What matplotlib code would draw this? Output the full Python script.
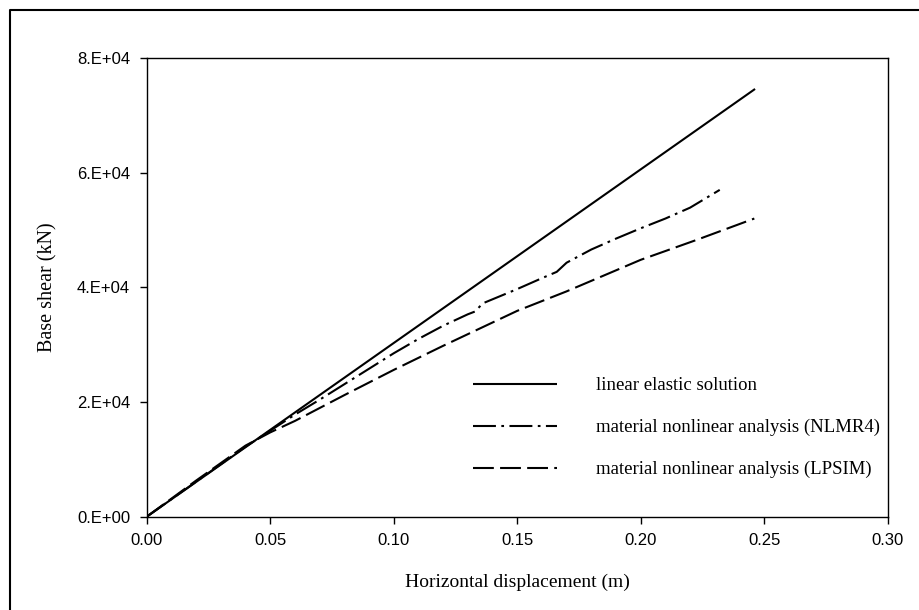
import matplotlib
matplotlib.use("Agg")
import matplotlib.pyplot as plt
from matplotlib.lines import Line2D

# Data
linear_x = [0.0, 0.2463]
linear_y = [0.0, 74600.0]

nlmr4_x = [0.0, 0.02, 0.04, 0.05, 0.06, 0.07, 0.08, 0.09, 0.10, 0.11, 0.12, 0.13, 0.133, 0.136,
           0.15, 0.16, 0.166, 0.17, 0.18, 0.19, 0.20, 0.21, 0.22, 0.232]
nlmr4_y = [0.0, 6100, 12200, 15000, 17800, 20400, 23100, 25800, 28500, 31000, 33300, 35300, 35800, 37200,
           39700, 41600, 42700, 44300, 46600, 48500, 50300, 52000, 53900, 57000]

lpsim_x = [0.0, 0.02, 0.04, 0.05, 0.06, 0.08, 0.10, 0.12, 0.15, 0.17, 0.20, 0.2228, 0.246]
lpsim_y = [0.0, 6300, 12400, 14700, 16700, 21200, 25600, 29800, 35900, 39300, 44800, 48300, 52000]

labels = ["linear elastic solution",
          "material nonlinear analysis (NLMR4)",
          "material nonlinear analysis (LPSIM)"]
xticks = [0.0, 0.05, 0.10, 0.15, 0.20, 0.25, 0.30]
xticklabels = ["0.00", "0.05", "0.10", "0.15", "0.20", "0.25", "0.30"]
yticks = [0, 20000, 40000, 60000, 80000]
yticklabels = ["0.E+00", "2.E+04", "4.E+04", "6.E+04", "8.E+04"]

serif = ["Liberation Serif", "DejaVu Serif"]
sans = ["Liberation Sans", "DejaVu Sans"]

fig = plt.figure(figsize=(9.19, 6.10), dpi=100)
ax = fig.add_axes([146.7 / 919, 1 - 516.7 / 610, (887.7 - 146.7) / 919, (516.7 - 58) / 610])

lw = 1.5
ax.plot(linear_x, linear_y, color="black", lw=lw, solid_capstyle="butt", label=labels[0])
ax.plot(nlmr4_x, nlmr4_y, color="black", lw=lw, dashes=(11, 2.6, 1.3, 2.6), label=labels[1])
ax.plot(lpsim_x, lpsim_y, color="black", lw=lw, dashes=(10, 3), label=labels[2])

ax.set_xlim(0, 0.30)
ax.set_ylim(0, 80000)
ax.set_xticks(xticks)
ax.set_xticklabels(xticklabels, fontfamily=sans, fontsize=12)
ax.set_yticks(yticks)
ax.set_yticklabels(yticklabels, fontfamily=sans, fontsize=12)
ax.tick_params(direction="out", length=5, width=1, color="black", pad=7)
for s in ax.spines.values():
    s.set_linewidth(1)
    s.set_color("black")

ax.set_xlabel("Horizontal displacement (m)", fontfamily=serif, fontsize=14, labelpad=18)
ax.set_ylabel("Base shear (kN)", fontfamily=serif, fontsize=14.5, labelpad=14)

fs_leg = 13.5
leg = ax.legend(loc="upper left", bbox_to_anchor=((473 - 146.7) / 741, (516.7 - 377) / 458.7),
                frameon=False, prop={"family": serif, "size": fs_leg}, handlelength=4.5,
                handletextpad=2.05, labelspacing=1.32, borderpad=0, borderaxespad=0)

# Figure border (left and top visible)
fig.add_artist(Line2D([10 / 919, 10 / 919, 1.0], [0.0, 1 - 10 / 610, 1 - 10 / 610],
                      transform=fig.transFigure, color="black", lw=1.5))

fig.savefig("out.png", dpi=100)
